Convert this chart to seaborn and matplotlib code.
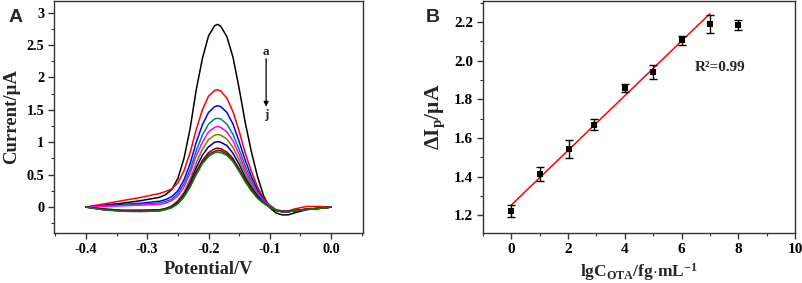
import numpy as np
import pandas as pd
import matplotlib
matplotlib.use("Agg")
import matplotlib.pyplot as plt
import seaborn as sns
from matplotlib.ticker import MultipleLocator, FuncFormatter

# ---------------- Panel A data (DPV curves a..j) ----------------
potential = [-0.40, -0.37, -0.34, -0.31, -0.28, -0.27, -0.26, -0.25, -0.24, -0.23, -0.22,
             -0.21, -0.20, -0.19, -0.185, -0.18, -0.17, -0.16, -0.15, -0.14, -0.13,
             -0.12, -0.11, -0.10, -0.09, -0.08, -0.07, -0.06, -0.04, -0.02, 0.00]

curve_a = [0.00, 0.03, 0.06, 0.10, 0.15, 0.19, 0.27, 0.44, 0.75, 1.21, 1.81, 2.29, 2.64, 2.80, 2.82, 2.79,
           2.63, 2.31, 1.83, 1.30, 0.85, 0.47, 0.17, -0.01, -0.09, -0.12, -0.12, -0.09, -0.04, -0.02, 0.00]
curve_b = [0.00, 0.05, 0.10, 0.15, 0.21, 0.24, 0.28, 0.37, 0.56, 0.84, 1.20, 1.50, 1.71, 1.80, 1.81, 1.79,
           1.68, 1.47, 1.17, 0.83, 0.55, 0.31, 0.13, 0.03, -0.04, -0.06, -0.06, -0.03, 0.01, 0.01, 0.00]
curve_c = [0.00, 0.02, 0.04, 0.06, 0.09, 0.115, 0.16, 0.25, 0.42, 0.67, 1.00, 1.27, 1.46, 1.55, 1.565, 1.55,
           1.46, 1.28, 1.01, 0.72, 0.47, 0.26, 0.11, 0.01, -0.05, -0.07, -0.07, -0.055, -0.03, -0.02, 0.00]
curve_d = [0.00, 0.015, 0.03, 0.045, 0.065, 0.085, 0.12, 0.21, 0.36, 0.58, 0.87, 1.11, 1.28, 1.36, 1.37, 1.36,
           1.28, 1.12, 0.89, 0.63, 0.41, 0.23, 0.10, 0.01, -0.05, -0.07, -0.07, -0.055, -0.035, -0.02, 0.00]
curve_e = [0.00, 0.01, 0.02, 0.03, 0.04, 0.06, 0.10, 0.17, 0.31, 0.52, 0.79, 1.00, 1.16, 1.23, 1.245, 1.23,
           1.16, 1.02, 0.81, 0.57, 0.37, 0.21, 0.09, 0.01, -0.05, -0.07, -0.07, -0.055, -0.035, -0.02, 0.00]
curve_f = [0.00, -0.03, -0.05, -0.05, -0.04, -0.02, 0.02, 0.10, 0.23, 0.43, 0.68, 0.89, 1.04, 1.11, 1.12, 1.11,
           1.05, 0.92, 0.73, 0.52, 0.34, 0.18, 0.08, 0.00, -0.05, -0.07, -0.07, -0.055, -0.035, -0.02, 0.00]
curve_g = [0.00, -0.03, -0.05, -0.05, -0.045, -0.025, 0.01, 0.08, 0.20, 0.38, 0.61, 0.80, 0.93, 1.00, 1.01, 1.00,
           0.95, 0.83, 0.66, 0.46, 0.30, 0.17, 0.07, 0.00, -0.05, -0.07, -0.07, -0.055, -0.035, -0.02, 0.00]
curve_h = [0.00, -0.04, -0.06, -0.06, -0.05, -0.03, 0.00, 0.07, 0.18, 0.34, 0.55, 0.72, 0.84, 0.90, 0.91, 0.90,
           0.85, 0.75, 0.59, 0.42, 0.27, 0.15, 0.06, 0.00, -0.05, -0.07, -0.07, -0.055, -0.035, -0.02, 0.00]
curve_i = [0.00, -0.04, -0.06, -0.065, -0.055, -0.035, -0.005, 0.06, 0.16, 0.32, 0.52, 0.69, 0.81, 0.86, 0.875, 0.87,
           0.82, 0.72, 0.57, 0.40, 0.26, 0.14, 0.06, 0.00, -0.05, -0.07, -0.07, -0.055, -0.035, -0.02, 0.00]
curve_j = [0.00, -0.045, -0.065, -0.07, -0.06, -0.04, -0.01, 0.05, 0.16, 0.31, 0.50, 0.67, 0.78, 0.84, 0.85, 0.84,
           0.80, 0.70, 0.55, 0.39, 0.25, 0.14, 0.06, 0.00, -0.05, -0.07, -0.07, -0.055, -0.035, -0.02, 0.00]

curve_names = ["a", "b", "c", "d", "e", "f", "g", "h", "i", "j"]
curve_values = [curve_a, curve_b, curve_c, curve_d, curve_e,
                curve_f, curve_g, curve_h, curve_i, curve_j]
curve_colors = ["#000000", "#FF0000", "#0000FF", "#008080", "#FF00FF",
                "#808000", "#000080", "#800000", "#800040", "#008000"]

# ---------------- Panel B data ----------------
log_conc = [0, 1, 2.02, 2.92, 4, 5, 6, 7, 8]
delta_ip = [1.222, 1.414, 1.545, 1.669, 1.860, 1.941, 2.105, 2.188, 2.185]
delta_ip_err = [0.033, 0.038, 0.047, 0.028, 0.021, 0.038, 0.022, 0.047, 0.027]
fit_x = [0, 7]
fit_y = [1.253, 2.243]

# ---------------- style ----------------
sns.set_theme(style="ticks")
plt.rcParams["font.family"] = ["Liberation Serif", "DejaVu Serif"]
plt.rcParams["font.weight"] = "bold"
plt.rcParams["mathtext.fontset"] = "custom"
plt.rcParams["mathtext.rm"] = "Liberation Serif:bold"
plt.rcParams["mathtext.it"] = "Liberation Serif:bold:italic"
plt.rcParams["mathtext.bf"] = "Liberation Serif:bold"
plt.rcParams["axes.edgecolor"] = "#333333"
plt.rcParams["axes.linewidth"] = 1.0

W, H = 803, 283
fig = plt.figure(figsize=(W / 100, H / 100), dpi=100)
axA = fig.add_axes([54 / W, 1 - 233 / H, 309 / W, 232 / H])
axB = fig.add_axes([483 / W, 1 - 233 / H, 312 / W, 232 / H])


def style_axes(ax, fs):
    for s in ["top", "right", "left", "bottom"]:
        ax.spines[s].set_visible(True)
        ax.spines[s].set_color("#333333")
        ax.spines[s].set_linewidth(1.0)
    ax.tick_params(which="both", direction="out", top=False, right=False,
                   colors="#333333", labelcolor="black")
    ax.tick_params(which="major", length=4, width=1, labelsize=fs, pad=3)
    ax.tick_params(which="minor", length=2.5, width=0.8)
    for lab in ax.get_xticklabels() + ax.get_yticklabels():
        lab.set_fontweight("bold")

# ---------------- Panel A ----------------
rows = []
for name, vals in zip(curve_names, curve_values):
    for v, c in zip(potential, vals):
        rows.append({"Potential": v, "Current": c, "curve": name})
dfA = pd.DataFrame(rows)
sns.lineplot(data=dfA, x="Potential", y="Current", hue="curve",
             palette=dict(zip(curve_names, curve_colors)), hue_order=curve_names,
             estimator=None, sort=False, legend=False, linewidth=1.1, ax=axA)

axA.set_xlim(-0.452, 0.052)
axA.set_ylim(-0.4, 3.18)
axA.xaxis.set_major_locator(MultipleLocator(0.1))
axA.xaxis.set_minor_locator(MultipleLocator(0.05))
axA.yaxis.set_major_locator(MultipleLocator(0.5))
axA.yaxis.set_minor_locator(MultipleLocator(0.25))
axA.xaxis.set_major_formatter(FuncFormatter(lambda v, p: f"{v:.1f}" if abs(v) > 1e-9 else "0.0"))
axA.yaxis.set_major_formatter(FuncFormatter(lambda v, p: f"{v:g}"))
axA.set_xlabel("Potential/V", fontsize=13.3, fontweight="bold", labelpad=4)
axA.set_ylabel("Current/μA", fontsize=13.5, fontweight="bold", labelpad=5)
style_axes(axA, 10.3)

axA.text(-0.106, 2.40, "a", ha="center", va="center", fontsize=9.5, fontweight="bold")
axA.text(-0.106, 1.42, "j", ha="center", va="center", fontsize=9.5, fontweight="bold")
axA.annotate("", xy=(-0.106, 1.55), xytext=(-0.106, 2.29),
             arrowprops=dict(arrowstyle="-|>", color="black", lw=0.9, mutation_scale=7,
                             shrinkA=0, shrinkB=0))

# ---------------- Panel B ----------------
dfB = pd.DataFrame({"lgC": log_conc, "dIp": delta_ip, "err": delta_ip_err})
dfFit = pd.DataFrame({"x": fit_x, "y": fit_y})
axB.errorbar(dfB["lgC"], dfB["dIp"], yerr=dfB["err"], fmt="none", ecolor="black",
             elinewidth=1.0, capsize=3, capthick=1.0, zorder=3)
sns.lineplot(data=dfFit, x="x", y="y", color="#FF0000", linewidth=1.1, ax=axB, zorder=2)
sns.scatterplot(data=dfB, x="lgC", y="dIp", marker="s", s=24, color="black",
                edgecolor="black", linewidth=0, ax=axB, zorder=4)

axB.set_xlim(-1, 10)
axB.set_ylim(1.108, 2.309)
axB.xaxis.set_major_locator(MultipleLocator(2))
axB.xaxis.set_minor_locator(MultipleLocator(1))
axB.yaxis.set_major_locator(MultipleLocator(0.2))
axB.yaxis.set_minor_locator(MultipleLocator(0.1))
axB.xaxis.set_major_formatter(FuncFormatter(lambda v, p: f"{v:.0f}"))
axB.yaxis.set_major_formatter(FuncFormatter(lambda v, p: f"{v:.1f}"))
axB.set_xlabel(r"$\mathrm{lgC_{OTA}/fg{\cdot}mL^{-1}}$", fontsize=12.5, labelpad=4)
axB.set_ylabel(r"$\Delta\mathrm{I_p/\mu A}$", fontsize=15.5, labelpad=5)
style_axes(axB, 11)
axB.text(6.45, 1.967, "R²=0.99", ha="left", va="center", fontsize=11, fontweight="bold")

# panel letters
fig.text(16 / W, 1 - 17 / H, "A", ha="center", va="center", fontsize=14,
         fontweight="bold", family="Liberation Sans")
fig.text(433 / W, 1 - 17 / H, "B", ha="center", va="center", fontsize=14,
         fontweight="bold", family="Liberation Sans")

fig.savefig("out.png", dpi=100)
